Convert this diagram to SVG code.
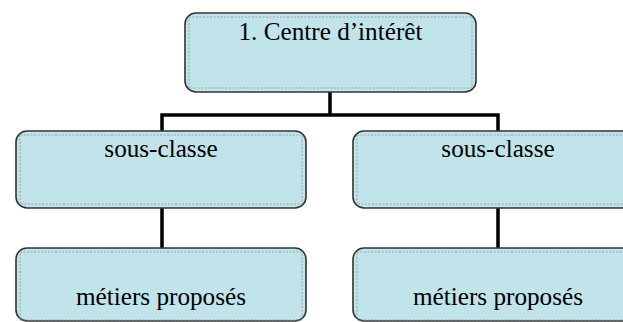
<svg xmlns="http://www.w3.org/2000/svg" width="623" height="322" viewBox="0 0 623 322">
<style>
.box{fill:#c1e3ea;stroke:#333;stroke-width:1.6}
.inner{fill:none;stroke:#8a9a9e;stroke-width:0.8;stroke-dasharray:2 1.5}
.lbl{font-family:"Liberation Serif","Times New Roman",serif;font-size:25.2px;fill:#000;text-anchor:middle}
.conn{fill:none;stroke:#000;stroke-width:3.5}
</style>
<rect width="623" height="322" fill="#fff"/>
<g id="connectors">
<path class="conn" d="M330 92V115M162 115H498M162 113.25V131M498 113.25V131"/>
<path class="conn" d="M162 208V248M498 208V248"/>
</g>
<g id="top">
<rect class="box" x="185" y="13" width="291" height="79" rx="11"/>
<rect class="inner" x="189" y="17" width="283" height="71"/>
<text class="lbl" x="330.5" y="40">1. Centre d’intérêt</text>
</g>
<g id="sub1">
<rect class="box" x="16" y="131" width="290" height="77" rx="11"/>
<rect class="inner" x="20" y="135" width="282" height="69"/>
<text class="lbl" x="161" y="157">sous-classe</text>
</g>
<g id="sub2">
<rect class="box" x="353" y="131" width="290" height="77" rx="11"/>
<rect class="inner" x="357" y="135" width="282" height="69"/>
<text class="lbl" x="498" y="157">sous-classe</text>
</g>
<g id="job1">
<rect class="box" x="16" y="248" width="290" height="73" rx="11"/>
<rect class="inner" x="20" y="252" width="282" height="68"/>
<text class="lbl" x="161" y="305">métiers proposés</text>
</g>
<g id="job2">
<rect class="box" x="353" y="248" width="290" height="73" rx="11"/>
<rect class="inner" x="357" y="252" width="282" height="68"/>
<text class="lbl" x="498" y="305">métiers proposés</text>
</g>
</svg>
